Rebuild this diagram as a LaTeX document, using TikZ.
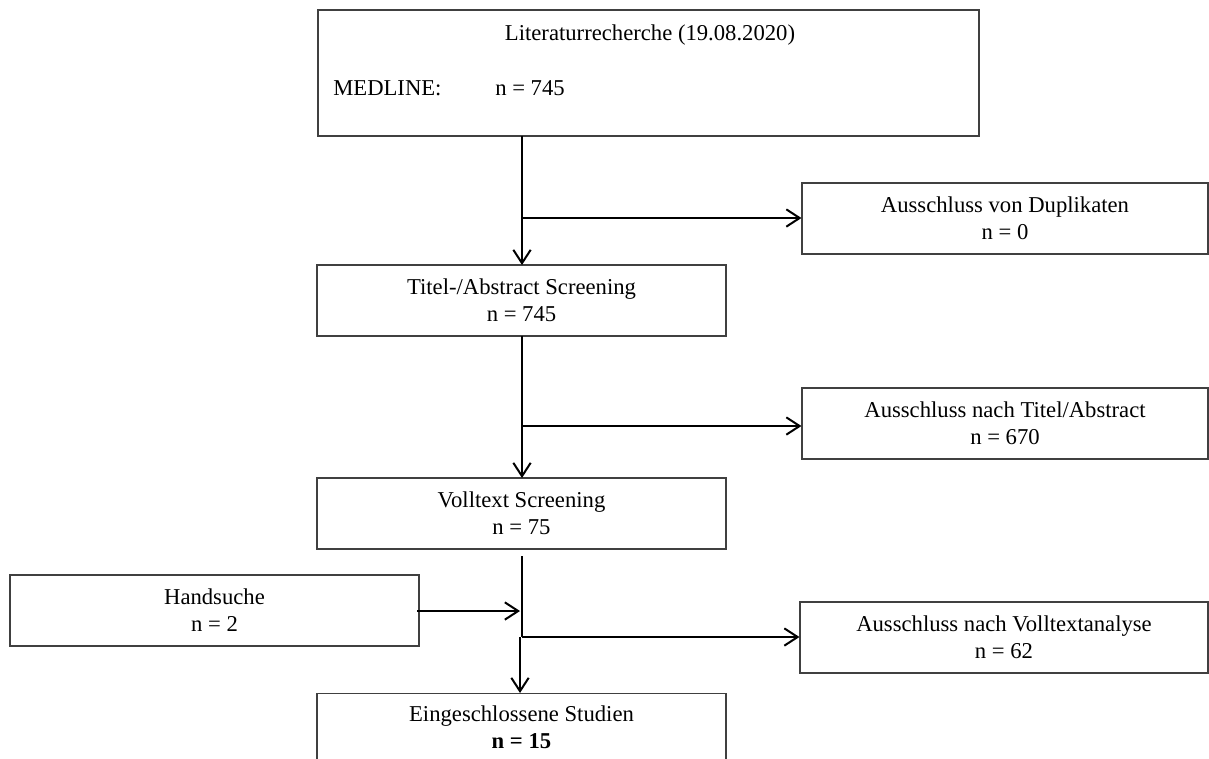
\documentclass[tikz,border=0pt]{standalone}
\usepackage{fontspec}
\setmainfont{Liberation Serif}
\usetikzlibrary{arrows.meta}
\begin{document}
\begin{tikzpicture}[x=0.75pt,y=-0.75pt,
  box/.style={draw=black!75, line width=0.8pt, rectangle, inner sep=0pt, align=center,
    font=\fontsize{17pt}{20.25pt}\selectfont},
  txt/.style={inner sep=0pt, align=center, font=\fontsize{17pt}{20.25pt}\selectfont},
  conn/.style={line width=1.5pt, black},
  arr/.style={conn, -{Straight Barb[length=10pt,width=13pt,line width=1.5pt]}}]
\useasboundingbox (0,0) rectangle (1209,758);
\clip (0,0) rectangle (1209,758);
\fill[white] (0,0) rectangle (1209,758);

% boxes
\node[box, minimum width=661*0.75pt, minimum height=126*0.75pt] (lit) at (648.5,73) {};
\node[txt, anchor=base] (littitle) at (650,40) {Literaturrecherche (19.08.2020)};
\node[txt, anchor=base west] (med) at (333,95) {MEDLINE:};
\node[txt, anchor=base west] (medn) at (495,95) {n = 745};

\node[box, minimum width=406*0.75pt, minimum height=71*0.75pt] (dup) at (1005,218.5)
  {Ausschluss von Duplikaten\\n = 0};
\node[box, minimum width=409*0.75pt, minimum height=71*0.75pt] (titel) at (521.5,300.5)
  {Titel-/Abstract Screening\\n = 745};
\node[box, minimum width=406*0.75pt, minimum height=71*0.75pt] (exta) at (1005,423.5)
  {Ausschluss nach Titel/Abstract\\n = 670};
\node[box, minimum width=409*0.75pt, minimum height=71*0.75pt] (voll) at (521.5,513.5)
  {Volltext Screening\\n = 75};
\node[box, minimum width=409*0.75pt, minimum height=71*0.75pt] (hand) at (214.5,610.5)
  {Handsuche\\n = 2};
\node[box, minimum width=408*0.75pt, minimum height=71*0.75pt] (exvt) at (1004,637.5)
  {Ausschluss nach Volltextanalyse\\n = 62};
\node[box, minimum width=409*0.75pt, minimum height=100*0.75pt, anchor=north] (ein) at (521.5,693) {};
\node[txt] (eintext) at (521.5,727) {Eingeschlossene Studien\\\textbf{n = 15}};

% connector coordinates
\coordinate (a0) at (522,136);
\coordinate (a1) at (522,218);
\coordinate (a2) at (522,265);
\coordinate (b0) at (522,336);
\coordinate (b1) at (522,426);
\coordinate (b2) at (522,478);
\coordinate (c0) at (522,556);
\coordinate (c1) at (522,637);
\coordinate (c2) at (520,637);
\coordinate (c3) at (520,693);
\coordinate (h0) at (417,611);
\coordinate (h1) at (520,611);

\draw[arr] (a0) -- (a2);
\draw[arr] (a1) -- (a1 -| dup.west);
\draw[arr] (b0) -- (b2);
\draw[arr] (b1) -- (b1 -| exta.west);
\draw[conn] (c0) -- (c1);
\draw[arr] (c1) -- (c1 -| exvt.west);
\draw[arr] (c2) -- (c3);
\draw[arr] (h0) -- (h1);
\end{tikzpicture}
\end{document}
